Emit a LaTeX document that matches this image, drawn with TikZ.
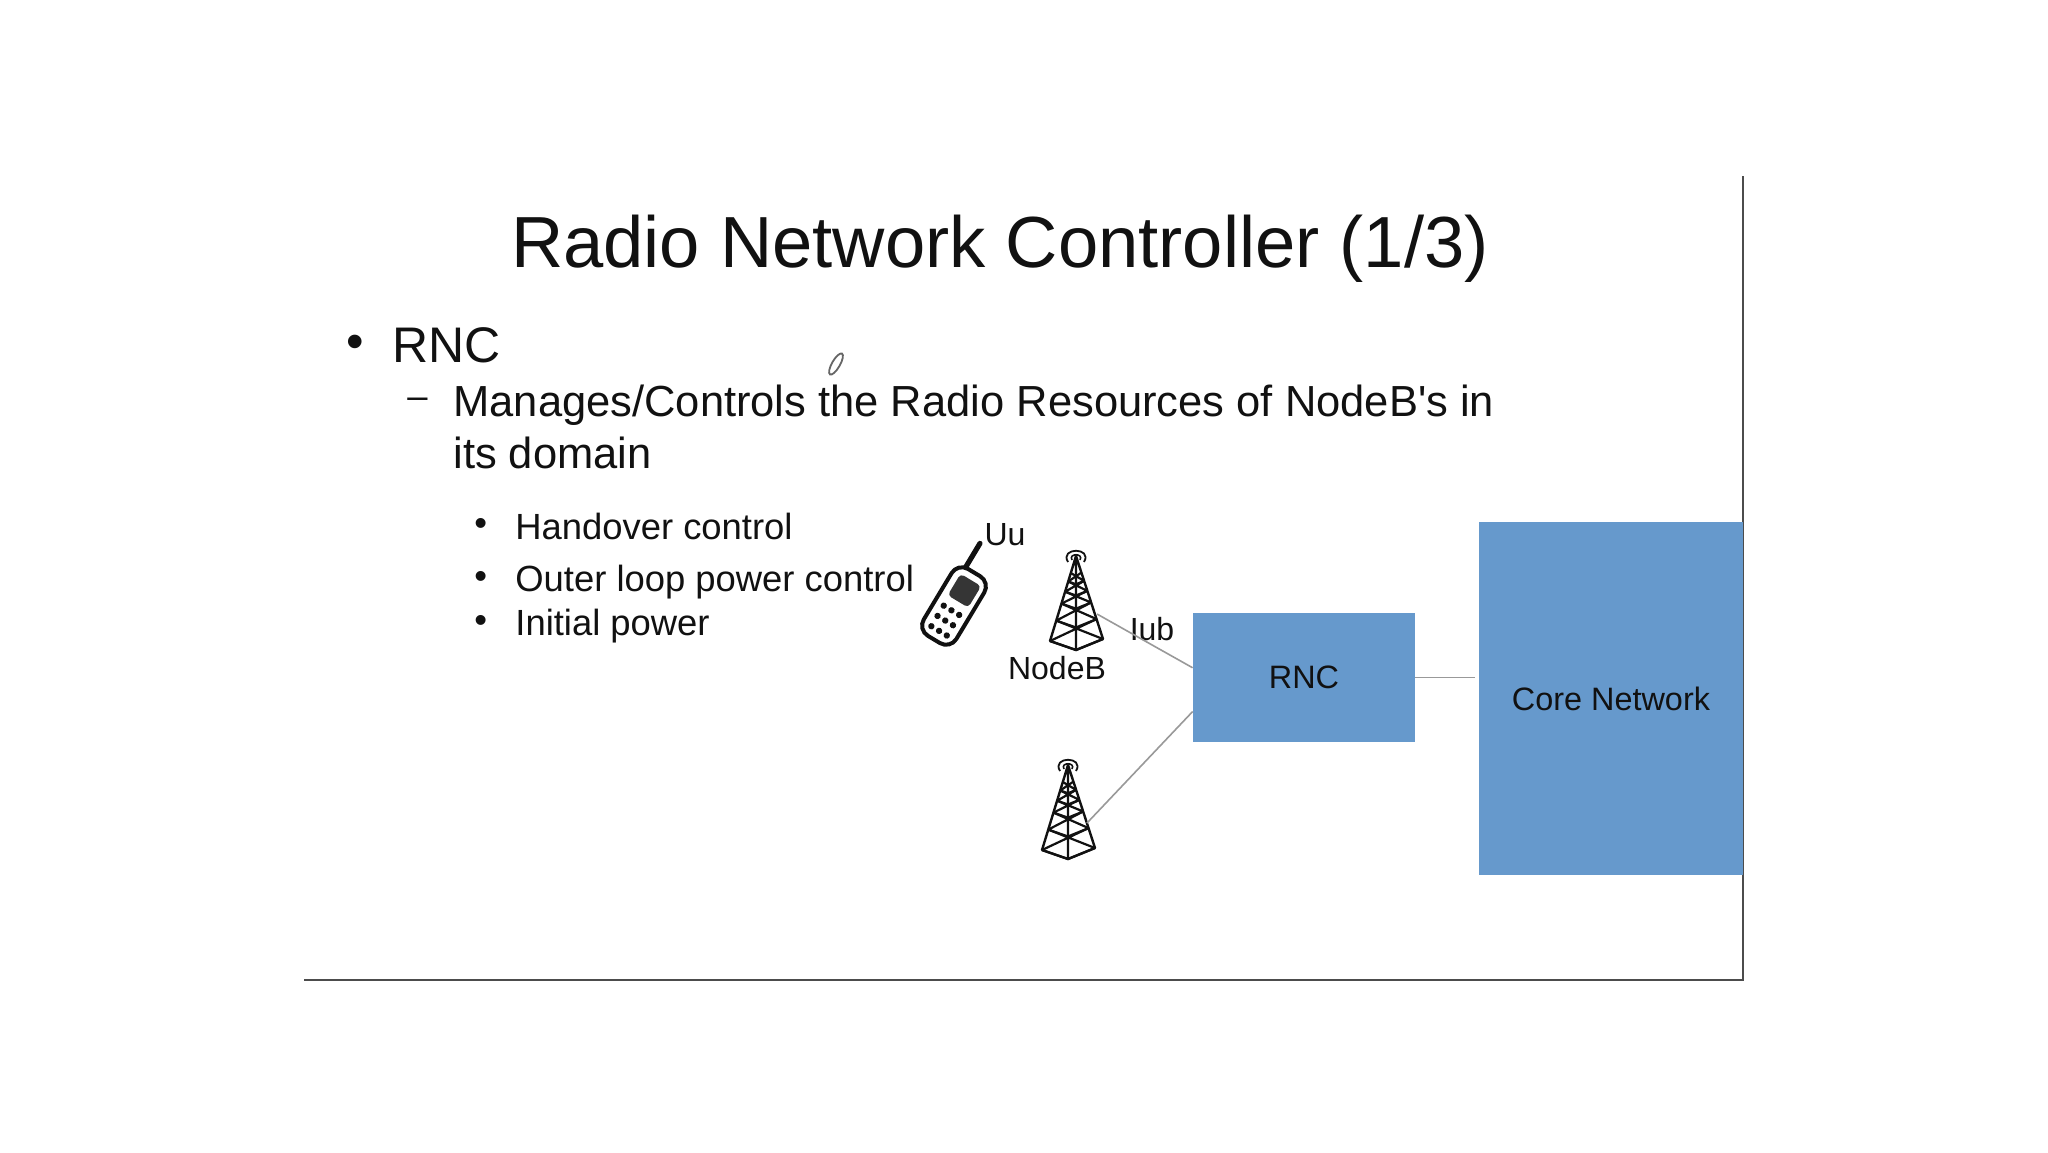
\documentclass[tikz,border=0pt]{standalone}
\usepackage{fontspec}
\setmainfont{Liberation Sans}
\usetikzlibrary{positioning}
\definecolor{boxblue}{HTML}{6699CC}
\definecolor{linkgray}{HTML}{999999}
\definecolor{inkblack}{HTML}{111111}

\tikzset{
    tower/.pic={
        \draw[inkblack, line width=1.2pt, line join=round]
            (0,0) -- (-26,85) -- (0,94) -- (27,83) -- cycle (0,0) -- (0,94);
        \foreach \lo/\hi in {0.2/0.3, 0.3/0.42, 0.42/0.56, 0.56/0.76, 0.76/1} {
            \draw[inkblack, line width=1.1pt]
                ({\hi*-26},{\hi*85}) -- ({\hi*0},{\hi*94}) -- ({\hi*27},{\hi*83})
                ({\lo*-26},{\lo*85}) -- ({\hi*27},{\hi*83})
                ({\lo*27},{\lo*83}) -- ({\hi*-26},{\hi*85});
        }
        \draw[inkblack, line width=0.9pt] (-8,6) .. controls (-17,-9) and (17,-9) .. (8,6);
        \draw[inkblack, line width=0.8pt] (-4,4) .. controls (-8,-3) and (8,-3) .. (4,4);
    },
    handset/.pic={
        \draw[inkblack, line width=2pt, rounded corners=6pt, fill=white] (-19,-39) rectangle (19,39);
        \draw[inkblack, line width=2.6pt, line cap=round] (-10,-39) -- (-10,-67);
        \fill[inkblack!85, rounded corners=2pt] (-11,-31) rectangle (13,-6);
        \foreach \u in {-9,0,9} {
            \foreach \v in {5,17,29} {
                \fill[inkblack] (\u,\v) circle (3.2);
            }
        }
    }
}

\begin{document}
\begin{tikzpicture}[
    x=0.5pt, y=-0.5pt,
    slidetitle/.style={anchor=base, text=inkblack, font=\fontsize{36.2}{40}\selectfont},
    itemone/.style={anchor=base west, text=inkblack, font=\fontsize{25}{30}\selectfont},
    itemtwo/.style={anchor=base west, text=inkblack, font=\fontsize{21.75}{26}\selectfont},
    itemthree/.style={anchor=base west, text=inkblack, font=\fontsize{18.2}{23}\selectfont},
    label/.style={anchor=base, text=inkblack, inner sep=0pt, font=\fontsize{16}{19}\selectfont},
    netbox/.style={rectangle, fill=boxblue, inner sep=0pt, text=inkblack, font=\fontsize{16.2}{19}\selectfont},
    link/.style={draw=linkgray, line width=0.8pt},
    edge line/.style={draw=black!70, line width=0.6pt}
]
\useasboundingbox (0,0) rectangle (2048,1152);
\fill[white] (0,0) rectangle (2048,1152);

% Slide edge
\coordinate (edgetop) at (1743,176);
\coordinate (edgecorner) at (1743,980);
\coordinate (edgeleft) at (304,980);
\draw[edge line] (edgetop) -- (edgecorner) -- (edgeleft);

% Text
\node[slidetitle, inner sep=0pt] (title) at (1000,267) {Radio Network Controller (1/3)};

\node[itemone, inner sep=0pt] (bulletrnc) at (346,358) {•};
\node[itemone, inner sep=0pt] (rnctext) at (392,362) {RNC};
\node[itemthree, inner sep=0pt] (dash) at (407,408) {–};
\node[itemtwo, inner sep=0pt] (manages) at (453,416) {Manages/Controls the Radio Resources of NodeB\textquotesingle s in};
\node[itemtwo, inner sep=0pt] (domain) at (453,468) {its domain};

\node[itemthree, inner sep=0pt] (bulleta) at (474,535) {•};
\node[itemthree, inner sep=0pt] (handover) at (515,539) {Handover control};
\node[itemthree, inner sep=0pt] (bulletb) at (474,588) {•};
\node[itemthree, inner sep=0pt] (outer) at (515,591) {Outer loop power control};
\node[itemthree, inner sep=0pt] (bulletc) at (474,632) {•};
\node[itemthree, inner sep=0pt] (initial) at (515,635) {Initial power};

% Pen cursor
\draw[black!60, line width=0.9pt, rotate around={60:(836,364)}] (836,364) ellipse (12 and 4);

% Network
\node[netbox, minimum width=111pt, minimum height=64.5pt] (rnc) at (1304,677.5) {RNC};
\node[netbox, minimum width=132pt, minimum height=176.5pt] (core) at (1611,698.5) {Core Network};

\pic[rotate=-31] at (954,606) {handset};
\pic at (1076,556) {tower};
\pic at (1068,765) {tower};
\coordinate (towerone) at (1097,614);
\coordinate (towertwo) at (1087,823);

\node[label] (uu) at (1005,545) {Uu};
\node[label] (nodeb) at (1057,679) {NodeB};
\node[label] (iub) at (1152,640) {Iub};

% Connectors
\draw[link] (towerone) -- (rnc.175.6);
\draw[link] (towertwo) -- (rnc.197.3);
\draw[link, shorten >=2pt] (rnc.east) -- (rnc.east -| core.west);

\end{tikzpicture}
\end{document}
